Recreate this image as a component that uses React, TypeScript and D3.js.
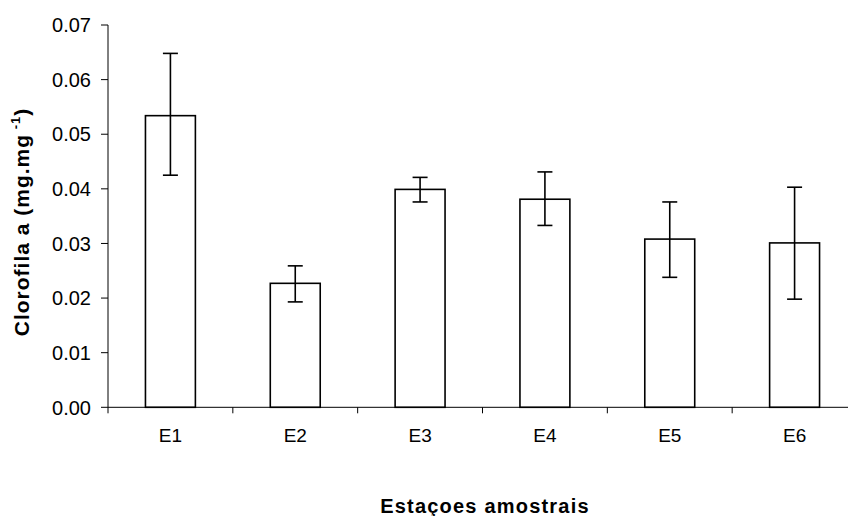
import * as d3 from 'd3';
import React from 'react';

// Clorofila a por estação amostral (média ± erro)
const stations = ['E1', 'E2', 'E3', 'E4', 'E5', 'E6'];
const means = [0.0534, 0.0227, 0.0399, 0.0381, 0.0308, 0.0301];
const upper = [0.0648, 0.0259, 0.0421, 0.0431, 0.0376, 0.0403];
const lower = [0.0425, 0.0193, 0.0376, 0.0333, 0.0238, 0.0198];
const yTicks = [0, 0.01, 0.02, 0.03, 0.04, 0.05, 0.06, 0.07];

const W = 848, H = 516;
const plot = { left: 108, right: 857, top: 25, bottom: 407.3 };
const font = 'Arial, "Liberation Sans", sans-serif';

export default function App() {
    const x = d3.scaleBand<string>()
        .domain(stations)
        .range([plot.left, plot.right]);
    const y = d3.scaleLinear()
        .domain([0, 0.07])
        .range([plot.bottom, plot.top]);

    const barW = x.bandwidth() * 0.4;
    const capW = 15;
    const fmt = d3.format('.2f');
    const boundaries = stations.map(s => x(s) as number).concat([plot.right]);

    return (
        <svg width={W} height={H} style={{ position: 'absolute', left: 0, top: 0, background: '#fff' }}>
            {/* y axis */}
            <line x1={plot.left} x2={plot.left} y1={plot.top} y2={plot.bottom} stroke="#000" strokeWidth={1} />
            {yTicks.map(t => (
                <g key={t}>
                    <line x1={plot.left - 7} x2={plot.left} y1={y(t)} y2={y(t)} stroke="#000" strokeWidth={1} />
                    <text x={plot.left - 17} y={y(t)} dy="0.36em" textAnchor="end"
                        fontFamily={font} fontSize={20} fill="#000">{fmt(t)}</text>
                </g>
            ))}

            {/* bars */}
            {stations.map((s, i) => {
                const cx = (x(s) as number) + x.bandwidth() / 2;
                return (
                    <g key={s}>
                        <rect x={cx - barW / 2} y={y(means[i])} width={barW} height={plot.bottom - y(means[i])}
                            fill="#fff" stroke="#000" strokeWidth={1.6} />
                        <line x1={cx} x2={cx} y1={y(upper[i])} y2={y(lower[i])} stroke="#000" strokeWidth={1.6} />
                        <line x1={cx - capW / 2} x2={cx + capW / 2} y1={y(upper[i])} y2={y(upper[i])} stroke="#000" strokeWidth={1.6} />
                        <line x1={cx - capW / 2} x2={cx + capW / 2} y1={y(lower[i])} y2={y(lower[i])} stroke="#000" strokeWidth={1.6} />
                        <text x={cx} y={442} textAnchor="middle" fontFamily={font} fontSize={19} fill="#000">{s}</text>
                    </g>
                );
            })}

            {/* x axis */}
            <line x1={plot.left} x2={W} y1={plot.bottom} y2={plot.bottom} stroke="#000" strokeWidth={1} />
            {boundaries.map((b, i) => (
                <line key={i} x1={b} x2={b} y1={plot.bottom} y2={plot.bottom + 6} stroke="#000" strokeWidth={1} />
            ))}

            {/* titles */}
            <text x={485} y={513} textAnchor="middle" fontFamily={font} fontSize={20} fontWeight="bold"
                letterSpacing={1.2} fill="#000">Estaçoes amostrais</text>
            <text transform={`translate(29,${222}) rotate(-90)`} textAnchor="middle" fontFamily={font}
                fontSize={21} fontWeight="bold" letterSpacing={1} fill="#000">
                Clorofila a (mg.mg<tspan fontSize={13} dy={-9}> -1</tspan><tspan dy={9}>)</tspan>
            </text>
        </svg>
    );
}
